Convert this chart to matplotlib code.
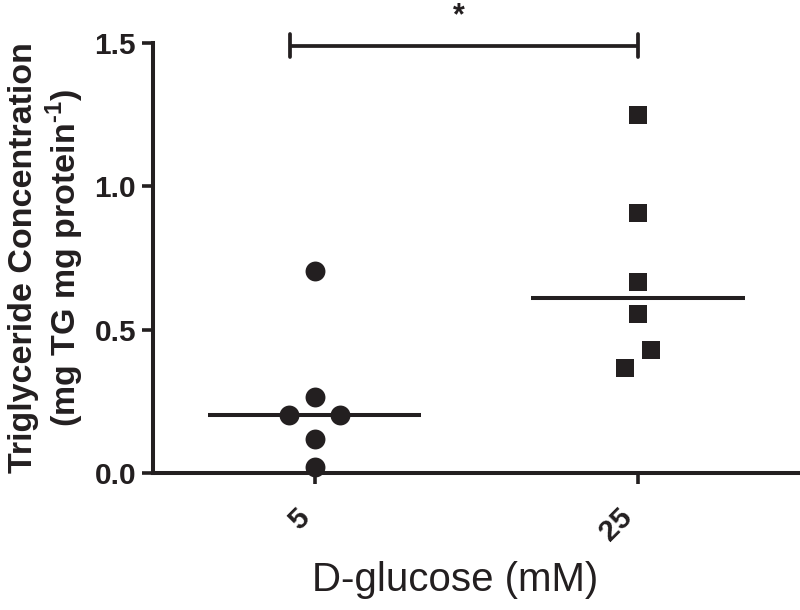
import numpy as np
import matplotlib
matplotlib.use('Agg')
import matplotlib.pyplot as plt

plt.rcParams['font.family'] = ['Liberation Sans', 'DejaVu Sans']
plt.rcParams['mathtext.fontset'] = 'custom'
plt.rcParams['mathtext.rm'] = 'Liberation Sans:bold'
plt.rcParams['mathtext.bf'] = 'Liberation Sans:bold'

# data
groups = ['5', '25']
tg_5mM = [0.705, 0.265, 0.201, 0.201, 0.117, 0.021]
tg_25mM = [1.250, 0.905, 0.666, 0.553, 0.428, 0.364]
jitter_5mM = [0, 0, -0.08, 0.08, 0, 0]
jitter_25mM = [0, 0, 0, 0, 0.04, -0.04]

ink = '#231f20'

fig = plt.figure(figsize=(8, 6.1), dpi=100)
ax = fig.add_axes([0.191, 0.225, 0.809, 0.7045])

ax.scatter(0 + np.array(jitter_5mM), tg_5mM, s=205, marker='o', color=ink,
           linewidths=0, zorder=3, clip_on=False)
ax.scatter(1 + np.array(jitter_25mM), tg_25mM, s=150, marker='s', color=ink,
           linewidths=0, zorder=3, clip_on=False)

# median lines
for i, vals in enumerate([tg_5mM, tg_25mM]):
    m = np.median(vals)
    ax.plot([i - 0.33, i + 0.33], [m, m], color=ink, lw=2.9, solid_capstyle='butt', zorder=2)

# significance bracket
yb = 1.49
ax.plot([-0.075, 1.0], [yb, yb], color=ink, lw=2.7, clip_on=False, solid_capstyle='butt')
for xb in [-0.075, 1.0]:
    ax.plot([xb, xb], [yb - 0.04, yb + 0.04], color=ink, lw=2.7, clip_on=False,
            solid_capstyle='round')
ax.text(0.445, 1.595, '*', ha='center', va='center', fontsize=22, fontweight='bold',
        color=ink, clip_on=False)

ax.set_xlim(-0.5, 1.5)
ax.set_ylim(0, 1.5)
ax.set_yticks([0, 0.5, 1.0, 1.5])
ax.set_yticklabels(['0.0', '0.5', '1.0', '1.5'])
ax.set_xticks([0, 1])
ax.set_xticklabels(groups, rotation=45, ha='right', va='top')

for lab in ax.get_xticklabels() + ax.get_yticklabels():
    lab.set_fontweight('bold')
    lab.set_fontsize(21.5)
    lab.set_color(ink)

ax.spines['top'].set_visible(False)
ax.spines['right'].set_visible(False)
for s in ['left', 'bottom']:
    ax.spines[s].set_linewidth(2.9)
    ax.spines[s].set_color(ink)
ax.tick_params(axis='both', length=8, width=2.6, color=ink, pad=4)
ax.tick_params(axis='x', pad=14)

ax.set_ylabel('Triglyceride Concentration\n(mg TG mg protein$^{\\text{-1}}$)',
              fontsize=24.5, fontweight='bold', color=ink, linespacing=1.15, labelpad=6)
fig.text(455 / 800, 1 - 580 / 610, 'D-glucose (mM)', ha='center', va='center',
         fontsize=29, color=ink)

plt.savefig('out.png', dpi=100)
